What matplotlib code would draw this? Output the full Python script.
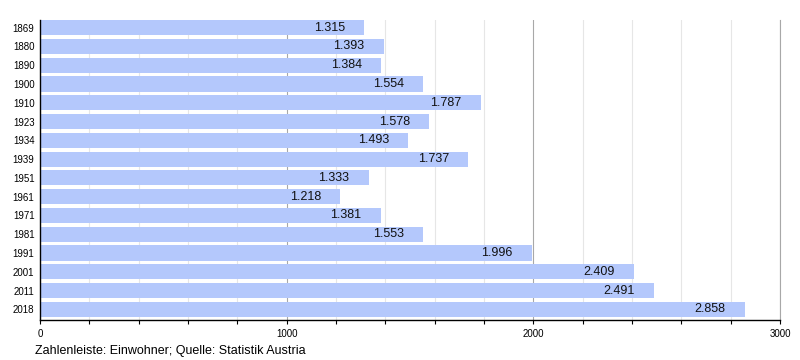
import matplotlib.pyplot as plt
from matplotlib.ticker import MultipleLocator

plt.rcParams['font.family'] = ['Liberation Sans', 'DejaVu Sans']

years = ["1869", "1880", "1890", "1900", "1910", "1923", "1934", "1939",
         "1951", "1961", "1971", "1981", "1991", "2001", "2011", "2018"]
einwohner = [1315, 1393, 1384, 1554, 1787, 1578, 1493, 1737,
             1333, 1218, 1381, 1553, 1996, 2409, 2491, 2858]

bar_color = "#b4c8fc"

fig = plt.figure(figsize=(8, 3.6), dpi=100)
ax = fig.add_axes([0.05, 0.111, 0.925, 0.833])

pos = list(range(len(years)))
ax.barh(pos, einwohner, height=0.8, color=bar_color, zorder=2)

# value labels inside bar end, German thousands separator
for p, v in zip(pos, einwohner):
    label = f"{v:,}".replace(",", ".")
    ax.annotate(label, (v, p), xytext=(-14, 0), textcoords="offset points",
                ha="right", va="center", fontsize=9, color="#111111", zorder=3)

ax.set_xlim(0, 3000)
ax.set_ylim(len(years) - 0.43, -0.4)
ax.set_yticks(pos)
ax.set_yticklabels(years, fontsize=7)
ax.xaxis.set_major_locator(MultipleLocator(1000))
ax.xaxis.set_minor_locator(MultipleLocator(200))
ax.tick_params(axis="x", which="major", labelsize=7, length=3, width=0.8)
ax.tick_params(axis="x", which="minor", length=3, width=0.8)
ax.tick_params(axis="y", length=0, pad=4)

ax.grid(axis="x", which="minor", color="#e6e6e6", linewidth=0.8, zorder=0)
ax.grid(axis="x", which="major", color="#a8a8a8", linewidth=0.8, zorder=0)
ax.axvline(3000, color="#a8a8a8", linewidth=0.8, zorder=0, clip_on=False)

for side in ["top", "right"]:
    ax.spines[side].set_visible(False)
ax.spines["left"].set_linewidth(1.0)
ax.spines["bottom"].set_linewidth(1.0)

fig.text(35 / 800, 1 - 351 / 360, "Zahlenleiste: Einwohner; Quelle: Statistik Austria",
         fontsize=9, ha="left", va="center")

fig.savefig("out.png", dpi=100)
